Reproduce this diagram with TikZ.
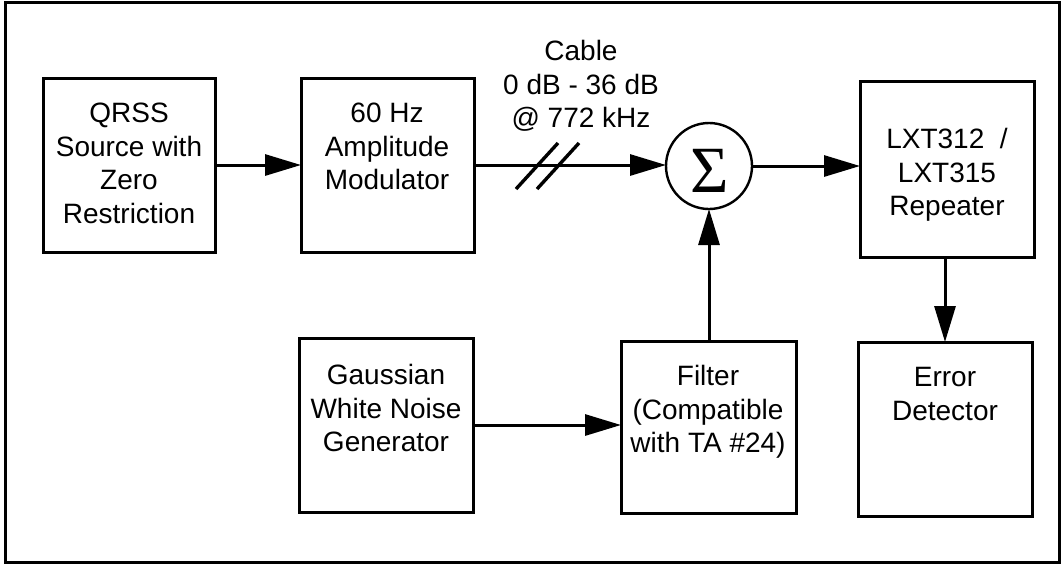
\documentclass[tikz,border=0pt]{standalone}
\usepackage{fontspec}
\setmainfont{Liberation Sans}
\newfontfamily\sigfont{Liberation Serif}
\usetikzlibrary{arrows.meta,calc}
\begin{document}
\begin{tikzpicture}[x=0.5pt,y=-0.5pt,
 box/.style={draw,line width=1.5pt,inner sep=0pt,outer sep=0pt},
 lbl/.style={anchor=north,inner sep=0pt,align=center,font=\fontsize{14}{16.75}\selectfont},
 conn/.style={line width=1.5pt,-{Triangle[length=18pt,width=10.5pt]}},
 plain/.style={line width=1.7pt}]
\useasboundingbox (0,0) rectangle (1064,564);
\draw[line width=1.5pt] (5,2) rectangle (1059,562);
% boxes
\node[box,minimum width=86pt,minimum height=87pt] (qrss) at (129,165) {};
\node[box,minimum width=86.5pt,minimum height=87pt] (am) at (387.5,165) {};
\node[box,minimum width=87pt,minimum height=88pt] (rep) at (947,169) {};
\node[box,minimum width=87pt,minimum height=87pt] (gwn) at (386,425) {};
\node[box,minimum width=87.5pt,minimum height=86pt] (flt) at (708.5,427) {};
\node[box,minimum width=87pt,minimum height=87pt] (err) at (945,429) {};
\node[draw,circle,line width=1.2pt,inner sep=0pt,outer sep=0pt,minimum size=43pt] (sig) at (709,166) {};
\node[inner sep=0pt,font=\sigfont\fontsize{33}{33}\selectfont] (sigT) at (710,171) {Σ};
% labels
\node[lbl] (qrssT) at (129,103) {QRSS\\Source with\\Zero\\Restriction};
\node[lbl] (amT) at (387,103) {60 Hz\\Amplitude\\Modulator};
\node[lbl] (repT) at (947,128) {LXT312~~/\\LXT315\\Repeater};
\node[lbl] (gwnT) at (386,364) {Gaussian\\White Noise\\Generator};
\node[lbl] (fltT) at (708,365) {Filter\\(Compatible\\with TA \#24)};
\node[lbl] (errT) at (945,367) {Error\\Detector};
\node[lbl] (cabT) at (581,40) {Cable\\0 dB - 36 dB\\@ 772 kHz};
% connectors
\draw[conn] (qrss.east) -- (am.west);
\draw[conn] (am.east) -- (am.east -| sig.west);
\coordinate (s1) at (537,166);
\coordinate (s2) at (558,166);
\draw[plain] ($(s1)+(-21,23)$) -- ($(s1)+(21,-23)$);
\draw[plain] ($(s2)+(-21,23)$) -- ($(s2)+(21,-23)$);
\draw[conn] (sig.east) -- (sig.east -| rep.west);
\draw[conn] (flt.north -| sig.south) -- (sig.south);
\draw[conn] (gwn.east) -- (gwn.east -| flt.west);
\draw[conn] (rep.south -| err.north) -- (err.north);
\end{tikzpicture}
\end{document}
